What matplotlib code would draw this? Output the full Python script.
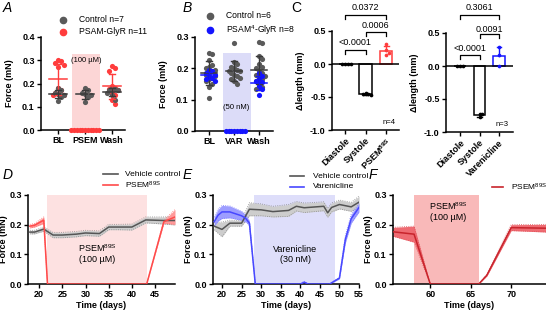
import matplotlib
matplotlib.use('Agg')
import matplotlib.pyplot as plt
from matplotlib.lines import Line2D
import numpy as np

plt.rcParams['font.family'] = ['Liberation Sans', 'DejaVu Sans']
plt.rcParams['font.size'] = 6.5
plt.rcParams['mathtext.default'] = 'regular'

# ---------------- data ----------------
a_cats = ['BL', 'PSEM', 'Wash']
a_ctrl_bl = [0.18, 0.17, 0.16, 0.155, 0.15, 0.14, 0.125]
a_ctrl_psem = [0.18, 0.17, 0.16, 0.155, 0.15, 0.14, 0.12]
a_ctrl_wash = [0.18, 0.175, 0.17, 0.17, 0.16, 0.15, 0.13]
a_glyr_bl = [0.30, 0.295, 0.29, 0.28, 0.27, 0.18, 0.17, 0.16, 0.155, 0.15, 0.15]
a_glyr_psem = [0.0] * 11
a_glyr_wash = [0.275, 0.265, 0.255, 0.19, 0.18, 0.175, 0.17, 0.16, 0.15, 0.13, 0.11]

b_cats = ['BL', 'VAR', 'Wash']
b_ctrl_bl = [0.25, 0.245, 0.225, 0.21, 0.205, 0.2, 0.195, 0.19, 0.185, 0.18, 0.175,
             0.17, 0.165, 0.16, 0.15, 0.14, 0.105]
b_ctrl_var = [0.28, 0.22, 0.215, 0.205, 0.2, 0.195, 0.19, 0.19, 0.185, 0.18, 0.175,
              0.17, 0.165, 0.16, 0.15]
b_ctrl_wash = [0.285, 0.28, 0.24, 0.23, 0.215, 0.205, 0.2, 0.19, 0.185, 0.18, 0.175,
               0.17, 0.165, 0.16, 0.15, 0.14, 0.135]
b_glyr_bl = [0.195, 0.19, 0.185, 0.18, 0.175, 0.17, 0.165, 0.16]
b_glyr_var = [0.0] * 8
b_glyr_wash = [0.185, 0.175, 0.165, 0.16, 0.155, 0.145, 0.135, 0.115]

c1_cats = ['Diastole', 'Systole', 'PSEM$^{89S}$']
c1_vals = [[0.0, 0.0, 0.0, 0.0], [-0.44, -0.45, -0.46, -0.465], [0.30, 0.21, 0.17, 0.13]]
c1_p = ['0.0372', '0.0006', '<0.0001']
c2_cats = ['Diastole', 'Systole', 'Varenicline']
c2_vals = [[0.0, 0.0, 0.0], [-0.72, -0.73, -0.77], [0.0, 0.16, 0.29]]
c2_p = ['0.3061', '0.0091', '<0.0001']

d_days_veh = [18, 19, 21, 22, 23, 25, 28, 30, 33, 35, 37, 40, 43, 47, 49.3]
d_veh = [0.175, 0.175, 0.185, 0.175, 0.165, 0.165, 0.168, 0.172, 0.170, 0.192, 0.192,
         0.192, 0.216, 0.214, 0.214]
d_veh_err = [0.006, 0.006, 0.007, 0.008, 0.009, 0.009, 0.009, 0.009, 0.009, 0.009,
             0.009, 0.01, 0.01, 0.012, 0.015]
d_days_psem = [18, 19, 21, 21.8, 43.2, 46.9, 49.3]
d_psem = [0.195, 0.198, 0.215, 0.0, 0.0, 0.21, 0.226]
d_psem_err = [0.006, 0.006, 0.011, 0.0, 0.0, 0.005, 0.025]

e_days_veh = [18, 20, 22, 25, 27, 30, 33, 37, 39, 41, 46, 47, 48, 50, 53, 55]
e_veh = [0.195, 0.184, 0.205, 0.205, 0.252, 0.25, 0.244, 0.248, 0.262, 0.257, 0.262,
         0.24, 0.258, 0.268, 0.26, 0.276]
e_veh_err = [0.012, 0.025, 0.01, 0.01, 0.022, 0.02, 0.018, 0.02, 0.016, 0.016, 0.015,
             0.015, 0.015, 0.015, 0.015, 0.02]
e_days_var = [18, 19, 20, 22, 25, 26, 27, 28.5, 40, 41, 42, 47.5, 50, 51.5, 53, 55]
e_var = [0.21, 0.232, 0.243, 0.243, 0.23, 0.222, 0.205, 0.0, 0.0, 0.006, 0.0, 0.0,
         0.02, 0.15, 0.22, 0.258]
e_var_err = [0.015, 0.02, 0.022, 0.02, 0.015, 0.012, 0.008, 0.0, 0.0, 0.004, 0.0, 0.0,
             0.003, 0.012, 0.015, 0.015]

f_days = [55.4, 58, 60, 66, 67, 70, 74.5]
f_psem = [0.176, 0.168, 0.0, 0.0, 0.03, 0.19, 0.188]
f_err = [0.015, 0.027, 0.0, 0.0, 0.003, 0.01, 0.013]

# ---------------- colours ----------------
GREY = '#5a5a5a'
RED = '#ff3c3c'
BLUE = '#1414ff'

W, H = 546, 310
fig = plt.figure(figsize=(W / 100, H / 100), dpi=100)


def add_ax(l, t, r, b):
    ax = fig.add_axes([l / W, 1 - b / H, (r - l) / W, (b - t) / H])
    ax._pxw = r - l
    return ax


def fx(x):
    return x / W


def fy(y):
    return 1 - y / H


def style(ax):
    for s in ['top', 'right']:
        ax.spines[s].set_visible(False)
    for s in ['left', 'bottom']:
        ax.spines[s].set_linewidth(1.1)
    ax.tick_params(width=1.0, length=3, labelsize=6.5, pad=1.5)
    for lab in ax.get_xticklabels() + ax.get_yticklabels():
        lab.set_fontweight('bold')


def ylab(ax, text, dist):
    ax.set_ylabel(text, fontweight='bold', fontsize=6.5)
    ax.yaxis.set_label_coords(-dist / ax._pxw, 0.5)


def swarm(vals, dx, dy, frac=0.5):
    placed = []
    xs = np.zeros(len(vals))
    for i, y in enumerate(vals):
        k = 0
        while True:
            off = ((k + 1) // 2) * dx * frac * (1 if k % 2 else -1) if k else 0.0
            ok = all(((off - px) / (dx * frac)) ** 2 + ((y - py) / dy) ** 2 >= 0.99
                     for px, py in placed)
            if ok:
                break
            k += 1
        placed.append((off, y))
        xs[i] = off
    return xs


def legend_mk(x, y, color, text, tx):
    fig.add_artist(Line2D([fx(x)], [fy(y)], marker='o', color=color, ms=4.5,
                          transform=fig.transFigure, ls='none'))
    fig.text(fx(tx), fy(y), text, va='center', ha='left', fontsize=6.2)


def legend_ln(x1, x2, y, color, text, tx):
    fig.add_artist(Line2D([fx(x1), fx(x2)], [fy(y), fy(y)], color=color, lw=1.2,
                          transform=fig.transFigure))
    fig.text(fx(tx), fy(y), text, va='center', ha='left', fontsize=6.0)


def dotplot(ax, groups, color, lcolor, dx, dy):
    for i, vals in enumerate(groups):
        v = np.array(vals)
        xs = swarm(v, dx, dy, 0.55) + i
        ax.scatter(xs, v, s=14, color=color, zorder=3, linewidths=0, clip_on=False)
        m, sd = v.mean(), v.std(ddof=1)
        ax.plot([i - 0.32, i + 0.32], [m, m], color=lcolor, lw=1.1, zorder=4)
        if sd > 0:
            ax.plot([i, i], [m - sd, m + sd], color=lcolor, lw=1.0, zorder=4)
            for yy in (m - sd, m + sd):
                ax.plot([i - 0.12, i + 0.12], [yy, yy], color=lcolor, lw=1.0, zorder=4)


# ---------------- Panel A ----------------
axA = add_ax(41, 37, 125, 130)
axA.set_xlim(-0.63, 2.48)
axA.set_ylim(0, 0.4)
axA.axvspan(0.52, 1.56, ymax=0.325 / 0.4, color='#fcd6d6', lw=0, zorder=0)
dotplot(axA, [a_glyr_bl, a_glyr_psem, a_glyr_wash], RED, RED, 0.185, 0.0215)
dotplot(axA, [a_ctrl_bl, a_ctrl_psem, a_ctrl_wash], GREY, '#3a3a3a', 0.185, 0.0215)
axA.set_xticks(range(3))
axA.set_xticklabels(a_cats)
axA.set_yticks([0, 0.1, 0.2, 0.3, 0.4])
axA.set_yticklabels(['0.0', '0.1', '0.2', '0.3', '0.4'])
ylab(axA, 'Force (mN)', 27)
axA.text(1.04, 0.30, '(100 µM)', ha='center', va='center', fontsize=5.5)
style(axA)
legend_mk(63, 20, GREY, 'Control n=7', 79)
legend_mk(63, 32, RED, 'PSAM-GlyR n=11', 79)
fig.text(fx(7), fy(8), 'A', fontsize=10, style='italic', ha='center', va='center')

# ---------------- Panel B ----------------
axB = add_ax(195, 37, 273, 131)
axB.set_xlim(-0.56, 2.56)
axB.set_ylim(0, 0.3)
axB.axvspan(0.56, 1.68, ymax=0.25 / 0.3, color='#dcdcf8', lw=0, zorder=0)
dotplot(axB, [b_ctrl_bl, b_ctrl_var, b_ctrl_wash], GREY, '#3a3a3a', 0.2, 0.016)
dotplot(axB, [b_glyr_bl, b_glyr_var, b_glyr_wash], BLUE, BLUE, 0.2, 0.016)
axB.set_xticks(range(3))
axB.set_xticklabels(b_cats)
axB.set_yticks([0, 0.1, 0.2, 0.3])
axB.set_yticklabels(['0.0', '0.1', '0.2', '0.3'])
ylab(axB, 'Force (mN)', 27)
axB.text(1.1, 0.075, '(50 nM)', ha='center', va='center', fontsize=5.5)
style(axB)
legend_mk(210, 16, GREY, 'Control n=6', 226)
legend_mk(210, 30, BLUE, 'PSAM$^4$-GlyR n=8', 226)
fig.text(fx(187), fy(8), 'B', fontsize=10, style='italic', ha='center', va='center')


# ---------------- Panel C ----------------
def bracket(ax, x1, x2, y, h, text, ty):
    ax.plot([x1, x1, x2, x2], [y - h, y, y, y - h], color='black', lw=0.9, clip_on=False)
    ax.text((x1 + x2) / 2, ty, text, ha='center', va='center', fontsize=6.5, clip_on=False)


def cpanel(ax, groups, cats, colors, pvals, ylev, ntext):
    ax.set_ylim(-1, 0.5)
    for i, vals in enumerate(groups):
        v = np.array(vals)
        m, sd = v.mean(), v.std(ddof=1)
        ax.bar(i, m, width=0.6, facecolor='white', edgecolor=colors[i], lw=1.1, zorder=2)
        if sd > 0:
            ax.plot([i, i], [m, m + np.sign(m) * sd], color=colors[i], lw=1.0, zorder=3)
            ax.plot([i - 0.12, i + 0.12], [m + np.sign(m) * sd] * 2, color=colors[i],
                    lw=1.0, zorder=3)
        xs = swarm(v, 0.16, 0.045, 0.9) + i
        ax.scatter(xs, v, s=7, color=colors[i], zorder=4, linewidths=0)
    ax.axhline(0, color='black', lw=1.1, zorder=3)
    bracket(ax, 0, 2, ylev[0][0], 0.06, pvals[0], ylev[0][1])
    bracket(ax, 1, 2, ylev[1][0], 0.06, pvals[1], ylev[1][1])
    bracket(ax, 0, 1, ylev[2][0], 0.06, pvals[2], ylev[2][1])
    ax.set_xticks(range(3))
    ax.set_xticklabels(cats, rotation=45, ha='right', rotation_mode='anchor')
    ax.set_yticks([-1, -0.5, 0, 0.5])
    ax.set_yticklabels(['-1.0', '-0.5', '0.0', '0.5'])
    ylab(ax, 'Δlength (mm)', 27)
    ax.text(2.15, -0.88, ntext, ha='center', va='center', fontsize=5.5)
    style(ax)


axC1 = add_ax(332, 31, 399, 130)
axC1.set_xlim(-0.63, 2.63)
cpanel(axC1, c1_vals, c1_cats, ['black', 'black', RED], c1_p,
       [(0.74, 0.85), (0.485, 0.58), (0.21, 0.32)], 'n=4')
axC2 = add_ax(446, 33, 513, 132)
axC2.set_xlim(-0.72, 2.72)
cpanel(axC2, c2_vals, c2_cats, ['black', 'black', BLUE], c2_p,
       [(0.77, 0.88), (0.485, 0.56), (0.17, 0.27)], 'n=3')
fig.text(fx(296), fy(8), 'C', fontsize=10, ha='center', va='center')


# ---------------- Bottom panels ----------------
def band(ax, x, y, e, color, fill, edge):
    x, y, e = np.array(x), np.array(y), np.array(e)
    ax.fill_between(x, y - e, y + e, color=fill, lw=0, zorder=2)
    ax.plot(x, y - e, color=edge, lw=0.6, ls=':', zorder=2)
    ax.plot(x, y + e, color=edge, lw=0.6, ls=':', zorder=2)
    ax.plot(x, y, color=color, lw=1.1, zorder=3)


def bottom_style(ax, xticks):
    ax.set_ylim(0, 0.3)
    ax.set_yticks([0, 0.1, 0.2, 0.3])
    ax.set_yticklabels(['0.0', '0.1', '0.2', '0.3'])
    ax.set_xticks(xticks)
    ylab(ax, 'Force (mN)', 20)
    ax.set_xlabel('Time (days)', fontweight='bold', fontsize=6.5, labelpad=1)
    style(ax)


axD = add_ax(28, 195, 175, 284)
axD.set_xlim(17.6, 49.3)
axD.axvspan(21.8, 43.2, color='#fde1e1', lw=0, zorder=0)
band(axD, d_days_veh, d_veh, d_veh_err, '#555555', '#cdcdcd', '#8a8a8a')
band(axD, d_days_psem, d_psem, d_psem_err, '#ff4a4a', '#ff9a9a', '#ff7070')
axD.text(32.5, 0.105, 'PSEM$^{89S}$\n(100 µM)', ha='center', va='center', fontsize=6.5,
         linespacing=1.1)
bottom_style(axD, [20, 25, 30, 35, 40, 45])
legend_ln(103, 118, 174, '#555555', 'Vehicle control', 125)
legend_ln(103, 118, 185, '#ff4a4a', 'PSEM$^{89S}$', 125)
fig.text(fx(8), fy(175), 'D', fontsize=10, style='italic', ha='center', va='center')

axE = add_ax(213, 195, 359, 284)
axE.set_xlim(17.7, 55)
axE.axvspan(28.1, 48.9, color='#dedefa', lw=0, zorder=0)
band(axE, e_days_veh, e_veh, e_veh_err, '#555555', '#cdcdcd', '#8a8a8a')
band(axE, e_days_var, e_var, e_var_err, '#4848ff', '#9d9dff', '#7a7aff')
axE.text(38.7, 0.1, 'Varenicline\n(30 nM)', ha='center', va='center', fontsize=6.5,
         linespacing=1.1)
bottom_style(axE, [20, 25, 30, 35, 40, 45, 50, 55])
legend_ln(290, 304, 176, '#555555', 'Vehicle control', 313)
legend_ln(290, 304, 187, '#4848ff', 'Varenicline', 313)
fig.text(fx(187), fy(175), 'E', fontsize=10, style='italic', ha='center', va='center')

axF = add_ax(393, 195, 546, 284)
axF.set_xlim(55.4, 74.3)
axF.axvspan(58, 66, color='#f9b9b9', lw=0, zorder=0)
band(axF, f_days, f_psem, f_err, '#c8242c', '#ee6b72', '#e05058')
axF.text(62.2, 0.245, 'PSEM$^{89S}$\n(100 µM)', ha='center', va='center', fontsize=6.5,
         linespacing=1.1)
bottom_style(axF, [60, 65, 70])
legend_ln(492, 503, 187, '#c8242c', 'PSEM$^{89S}$', 511)
fig.text(fx(373), fy(175), 'F', fontsize=10, style='italic', ha='center', va='center')

fig.savefig('out.png', dpi=100)
